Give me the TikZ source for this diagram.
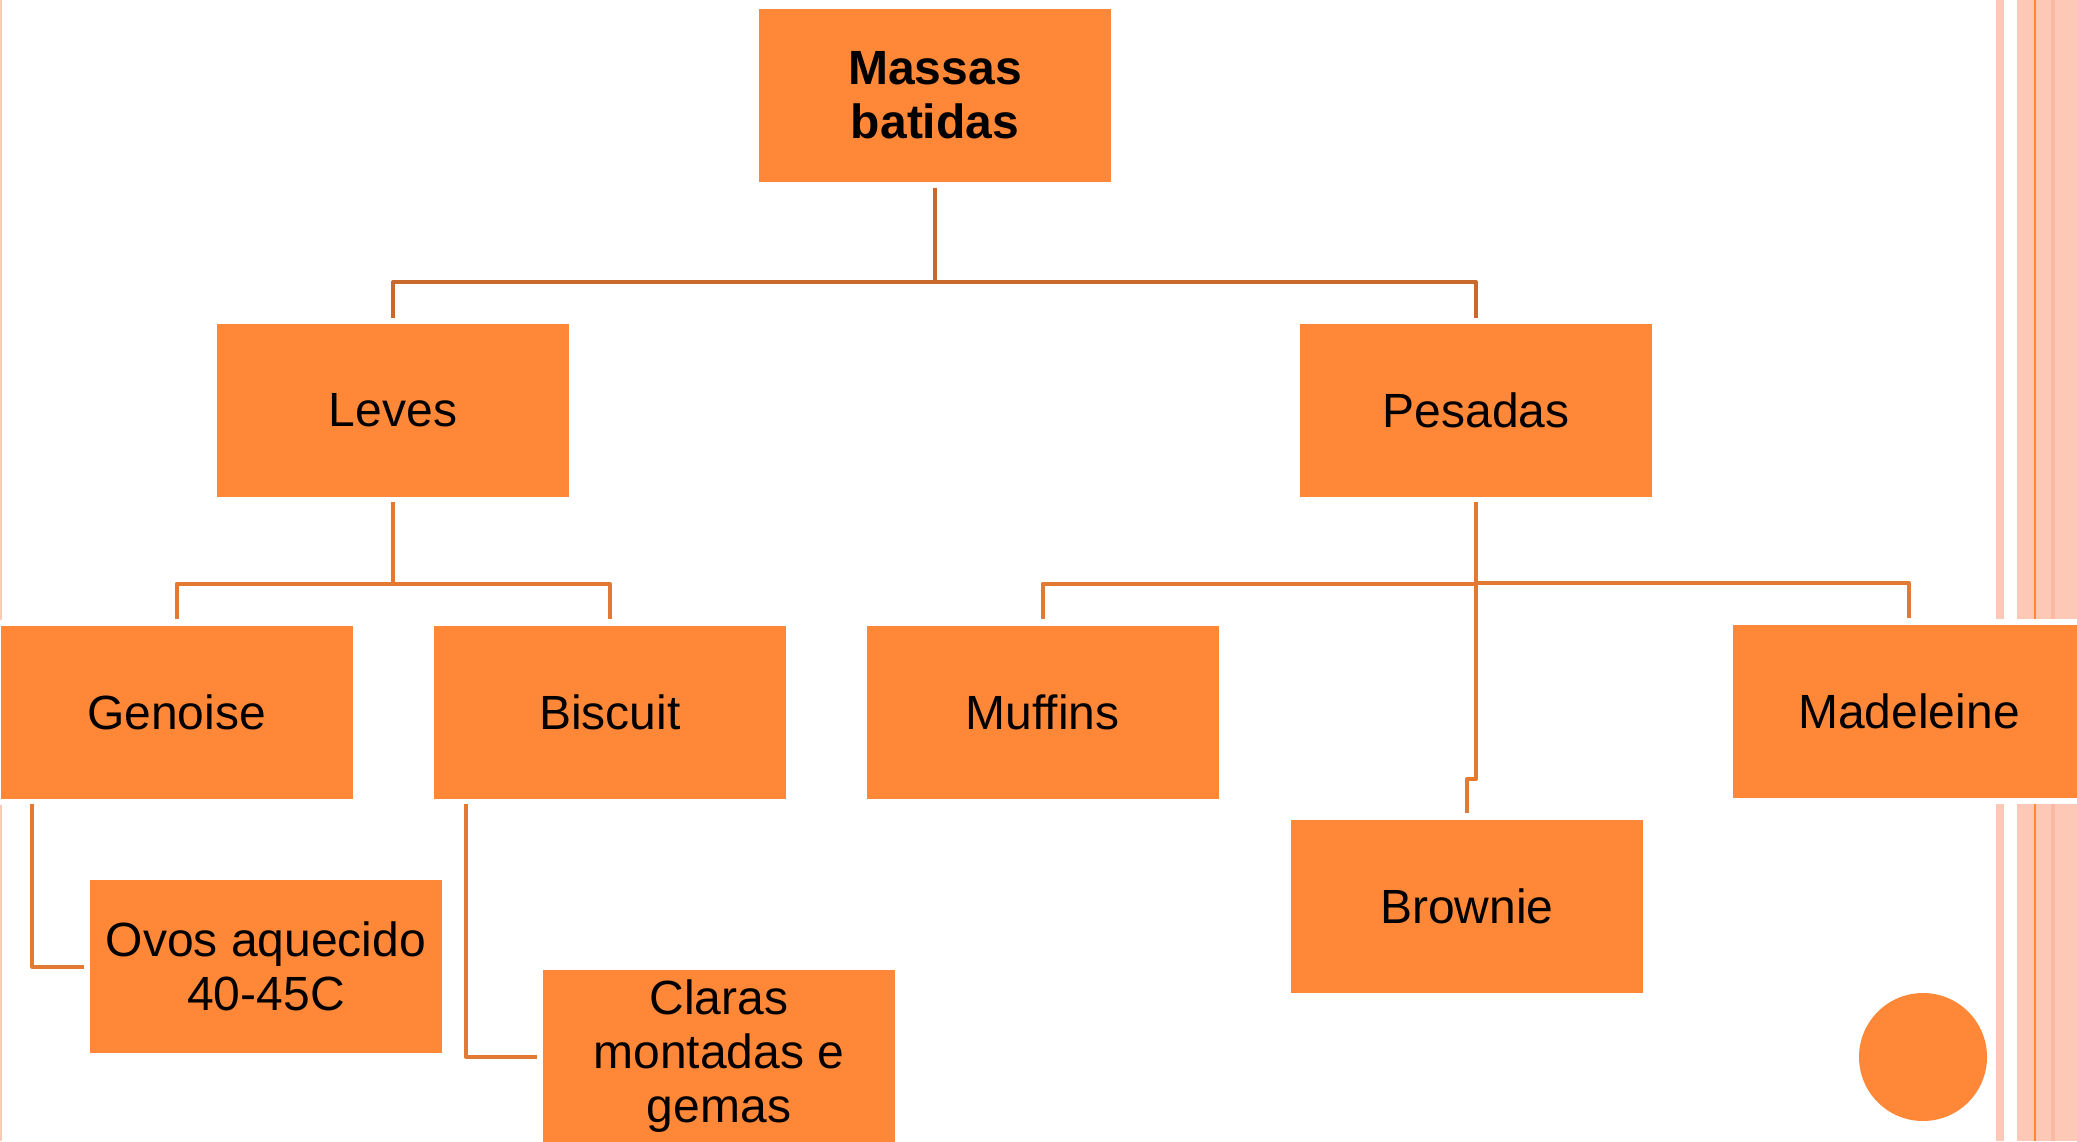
\documentclass[tikz,border=0pt]{standalone}
\usepackage{fontspec}
\setmainfont{Liberation Sans}
\definecolor{boxfill}{HTML}{FF8838}
\definecolor{connA}{HTML}{E27A34}
\definecolor{connTop}{HTML}{C9692C}
\definecolor{stripe}{HTML}{FDC8B5}
\definecolor{stripeD}{HTML}{F9B9A3}
\definecolor{stripeLine}{HTML}{FF8838}
\begin{document}
\begin{tikzpicture}[x={(1pt,0)},y={(0,-1pt)},
  box/.style={rectangle,fill=boxfill,minimum width=352pt,minimum height=173pt,inner sep=0pt,
    align=center,font=\fontsize{48}{54}\selectfont,text=black},
  conn/.style={draw=connA,line width=4pt,line join=round},
  conntop/.style={draw=connTop,line width=4pt,line join=round}]
\useasboundingbox (0,0) rectangle (2077,1141);
\clip (0,0) rectangle (2077,1141);
% decorative stripes
\fill[stripe] (0,0) rectangle (2,620);
\fill[stripe] (0,805) rectangle (2,1141);
\foreach \ya/\yb in {0/619,804/1141}{
  \fill[stripe] (1996,\ya) rectangle (2004,\yb);
  \fill[stripe] (2017,\ya) rectangle (2077,\yb);
  \fill[stripeD] (2051,\ya) rectangle (2055,\yb);
  \fill[stripeLine] (2034,\ya) rectangle (2036,\yb);
}
% nodes
\node[box,font=\bfseries\fontsize{48}{54}\selectfont] (top) at (935,95) {Massas\\batidas};
\node[box] (leves) at (393,410) {Leves};
\node[box] (pesadas) at (1476,410) {Pesadas};
\node[box] (genoise) at (176.5,712) {Genoise};
\node[box] (biscuit) at (610,712) {Biscuit};
\node[box] (muffins) at (1042.5,712) {Muffins};
\node[box] (madeleine) at (1909,711) {Madeleine};
\node[box] (brownie) at (1467,906) {Brownie};
\node[box] (ovos) at (266,966.5) {Ovos aquecido\\40-45C};
\node[box] (claras) at (719,1056.5) {Claras\\montadas e\\gemas};
\node[circle,fill=boxfill,minimum size=128pt,inner sep=0pt] (dot) at (1923,1057) {};
% junction coordinates
\coordinate (j0) at (935,282);
\coordinate (j1) at (393,584);
\coordinate (j2) at (1476,584);
\coordinate (j3) at (1476,779);
% connectors
\draw[conntop] ([yshift=-6pt]top.south) -- (j0);
\draw[conntop] (j0) -| ([yshift=5pt]leves.north);
\draw[conntop] (j0) -| ([yshift=5pt]pesadas.north);
\draw[conn] ([yshift=-5pt]leves.south) -- (j1);
\draw[conn] (j1) -| ([yshift=6pt]genoise.north);
\draw[conn] (j1) -| ([yshift=6pt]biscuit.north);
\draw[conn] ([yshift=-5pt]pesadas.south) -- (j2);
\draw[conn] (j2) -| ([yshift=6pt]muffins.north);
\draw[conn] ([yshift=1pt]j2) -| ([yshift=6pt]madeleine.north);
\draw[conn] (j2) -- (j3) -| ([yshift=6pt]brownie.north);
\draw[conn] ([shift={(32pt,-5pt)}]genoise.south west) |- ([xshift=-6pt]ovos.west);
\draw[conn] ([shift={(32pt,-5pt)}]biscuit.south west) |- ([xshift=-6pt]claras.west);
\end{tikzpicture}
\end{document}
